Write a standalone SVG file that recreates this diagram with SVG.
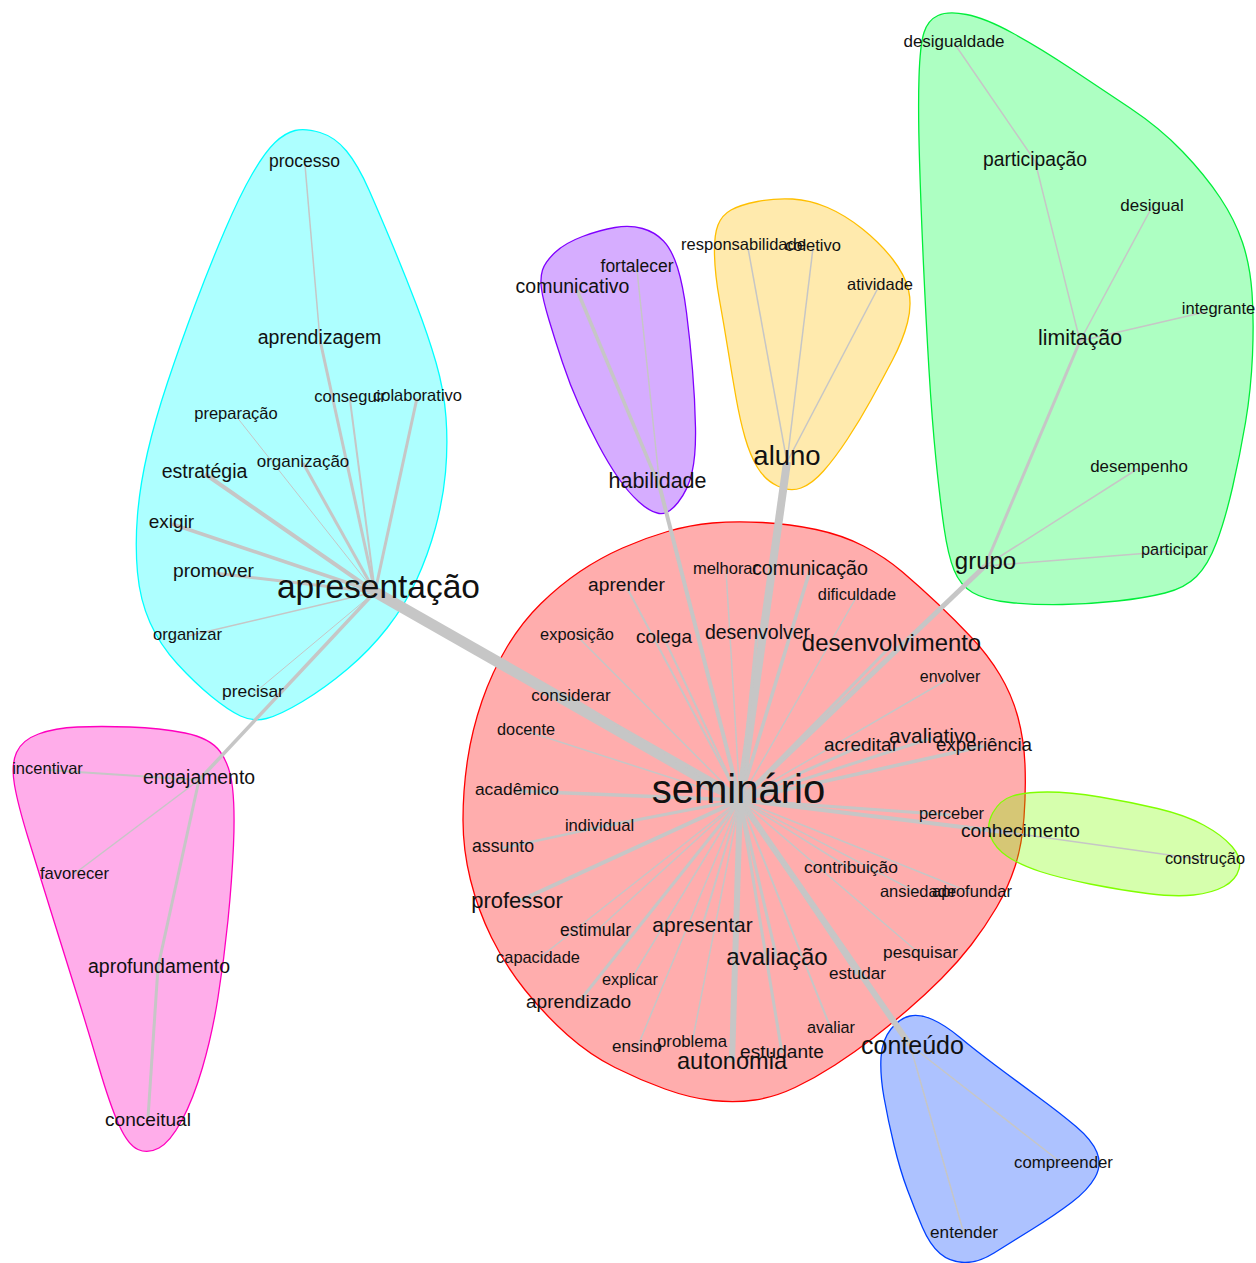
<svg xmlns="http://www.w3.org/2000/svg" width="1256" height="1263" viewBox="0 0 1256 1263">
<style>
.halo{fill-opacity:0.32;stroke-width:1.3}
.e line{stroke:#c6c6c6;stroke-linecap:butt}
text{font-family:"Liberation Sans",Arial,sans-serif;fill:#111;text-anchor:middle}
</style>
<rect width="1256" height="1263" fill="#fff"/>
<g id="halos">
<path id="halo-cyan" class="halo" fill="#00FFFF" stroke="#00FFFF" d="M295,130.5 Q305,128 320,132.5 Q335,137 346.5,151 Q358,165 369,190 Q380,215 392.5,245 Q405,275 416.5,305 Q428,335 436,362.5 Q444,390 446,417.5 Q448,445 445.5,472.5 Q443,500 435.5,527.5 Q428,555 416.5,580 Q405,605 387.5,627.5 Q370,650 347.5,669 Q325,688 302.5,701.5 Q280,715 266.5,718.5 Q253,722 240.5,716 Q228,710 211.5,696.5 Q195,683 177.5,664 Q160,645 150,622.5 Q140,600 137.5,572.5 Q135,545 137.5,515 Q140,485 147.5,452.5 Q155,420 167.5,382.5 Q180,345 195,305 Q210,265 225,230 Q240,195 252.5,173.5 Q265,152 275,142.5 Q285,133 295,130.5 Z"/>
<path id="halo-magenta" class="halo" fill="#FF00BF" stroke="#FF00BF" d="M77.5,727 Q100,726 130,727 Q160,728 185,733 Q210,738 220,751.5 Q230,765 232.5,787.5 Q235,810 233.5,845 Q232,880 228,920 Q224,960 218,997.5 Q212,1035 202.5,1067.5 Q193,1100 181.5,1121 Q170,1142 159,1148 Q148,1154 138,1149.5 Q128,1145 119,1125 Q110,1105 99,1067.5 Q88,1030 75.5,990 Q63,950 50.5,910 Q38,870 28,837.5 Q18,805 14.5,785 Q11,765 16.5,752.5 Q22,740 38.5,734 Q55,728 77.5,727 Z"/>
<path id="halo-purple" class="halo" fill="#8000FF" stroke="#8000FF" d="M542.5,270 Q545,262 555,252.5 Q565,243 582.5,236.5 Q600,230 615,227.5 Q630,225 642.5,228.5 Q655,232 663.5,241 Q672,250 677.5,267.5 Q683,285 686.5,312.5 Q690,340 692.5,370 Q695,400 695.5,427.5 Q696,455 692,472.5 Q688,490 678,502.5 Q668,515 659,513.5 Q650,512 639,502 Q628,492 618,477.5 Q608,463 598,444 Q588,425 579,405 Q570,385 562.5,362.5 Q555,340 549,320 Q543,300 541.5,289 Q540,278 542.5,270 Z"/>
<path id="halo-orange" class="halo" fill="#FFBF00" stroke="#FFBF00" d="M731,210 Q740,205 757.5,201.5 Q775,198 792.5,199 Q810,200 827.5,207.5 Q845,215 862.5,229 Q880,243 892.5,259 Q905,275 908.5,290 Q912,305 907.5,322.5 Q903,340 892.5,360 Q882,380 871,400 Q860,420 847.5,439 Q835,458 823.5,471 Q812,484 801,488 Q790,492 777.5,486 Q765,480 757.5,467.5 Q750,455 745,437.5 Q740,420 736,397.5 Q732,375 728,350 Q724,325 719.5,300 Q715,275 714.5,255 Q714,235 718,225 Q722,215 731,210 Z"/>
<path id="halo-green" class="halo" fill="#00FF40" stroke="#00EE3A" d="M938,15.5 Q948,11 966.5,14.5 Q985,18 1012.5,33 Q1040,48 1070,68 Q1100,88 1130,108 Q1160,128 1182.5,151.5 Q1205,175 1220,197.5 Q1235,220 1242.5,242.5 Q1250,265 1252,292.5 Q1254,320 1252.5,355 Q1251,390 1245.5,422.5 Q1240,455 1232.5,487.5 Q1225,520 1216.5,542.5 Q1208,565 1196.5,576.5 Q1185,588 1165,593 Q1145,598 1117.5,601 Q1090,604 1062.5,604.5 Q1035,605 1010,602.5 Q985,600 972.5,592.5 Q960,585 954,570 Q948,555 944,527.5 Q940,500 936,460 Q932,420 929,370 Q926,320 923.5,265 Q921,210 919.5,160 Q918,110 919,77.5 Q920,45 924,32.5 Q928,20 938,15.5 Z"/>
<path id="halo-red" class="halo" fill="#FF0000" stroke="#FF0000" d="M712.5,523 Q735,521 762.5,522.5 Q790,524 816,529.5 Q842,535 863.5,546 Q885,557 902.5,572 Q920,587 937.5,603.5 Q955,620 971.5,637.5 Q988,655 1000,675 Q1012,695 1018,717.5 Q1024,740 1025,765 Q1026,790 1024,817.5 Q1022,845 1015,866.5 Q1008,888 996.5,907.5 Q985,927 971.5,944.5 Q958,962 941.5,978.5 Q925,995 907.5,1010 Q890,1025 872.5,1038.5 Q855,1052 835,1065 Q815,1078 795,1087.5 Q775,1097 755,1100 Q735,1103 712.5,1100.5 Q690,1098 665,1089 Q640,1080 615,1067.5 Q590,1055 567.5,1035 Q545,1015 525,990 Q505,965 491.5,937.5 Q478,910 470.5,880 Q463,850 463,820 Q463,790 467.5,760 Q472,730 482,701 Q492,672 507,647 Q522,622 541,603.5 Q560,585 580,571.5 Q600,558 622.5,548 Q645,538 667.5,531.5 Q690,525 712.5,523 Z"/>
<path id="halo-lime" class="halo" fill="#80FF00" stroke="#80FF00" d="M993,812.5 Q1000,800 1012.5,796 Q1025,792 1047.5,792 Q1070,792 1100,797 Q1130,802 1157.5,808.5 Q1185,815 1203.5,825 Q1222,835 1232,846.5 Q1242,858 1239,869 Q1236,880 1224,886.5 Q1212,893 1193.5,895 Q1175,897 1147.5,893.5 Q1120,890 1090,884 Q1060,878 1040,871.5 Q1020,865 1007.5,856.5 Q995,848 990.5,836.5 Q986,825 993,812.5 Z"/>
<path id="halo-blue" class="halo" fill="#0040FF" stroke="#0040FF" d="M891,1029 Q900,1018 910,1016 Q920,1014 932.5,1019.5 Q945,1025 960,1037.5 Q975,1050 995,1065 Q1015,1080 1037.5,1096.5 Q1060,1113 1076,1126.5 Q1092,1140 1097,1152.5 Q1102,1165 1095,1177.5 Q1088,1190 1071.5,1202.5 Q1055,1215 1032.5,1229 Q1010,1243 994,1253 Q978,1263 964,1262.5 Q950,1262 940,1253.5 Q930,1245 922.5,1227.5 Q915,1210 907.5,1190 Q900,1170 894,1145 Q888,1120 884,1097.5 Q880,1075 881,1057.5 Q882,1040 891,1029 Z"/>
</g>
<g id="edges" class="e">
<line x1="740" y1="800" x2="375" y2="592" stroke-width="11"/>
<line x1="740" y1="800" x2="787" y2="462" stroke-width="8"/>
<line x1="740" y1="800" x2="660" y2="488" stroke-width="4"/>
<line x1="740" y1="800" x2="985" y2="566" stroke-width="5"/>
<line x1="740" y1="800" x2="910" y2="1045" stroke-width="6"/>
<line x1="740" y1="800" x2="732" y2="1062" stroke-width="6"/>
<line x1="740" y1="800" x2="1012" y2="833" stroke-width="4"/>
<line x1="740" y1="800" x2="891" y2="646" stroke-width="3"/>
<line x1="740" y1="800" x2="517" y2="902" stroke-width="4"/>
<line x1="740" y1="800" x2="626" y2="586" stroke-width="2"/>
<line x1="740" y1="800" x2="726" y2="570" stroke-width="1.5"/>
<line x1="740" y1="800" x2="810" y2="570" stroke-width="3.5"/>
<line x1="740" y1="800" x2="857" y2="596" stroke-width="1.5"/>
<line x1="740" y1="800" x2="577" y2="636" stroke-width="1.5"/>
<line x1="740" y1="800" x2="664" y2="638" stroke-width="2"/>
<line x1="740" y1="800" x2="757" y2="634" stroke-width="3"/>
<line x1="740" y1="800" x2="950" y2="678" stroke-width="1.5"/>
<line x1="740" y1="800" x2="571" y2="697" stroke-width="2"/>
<line x1="740" y1="800" x2="526" y2="731" stroke-width="1.5"/>
<line x1="740" y1="800" x2="861" y2="746" stroke-width="3"/>
<line x1="740" y1="800" x2="932" y2="738" stroke-width="3"/>
<line x1="740" y1="800" x2="984" y2="746" stroke-width="3.5"/>
<line x1="740" y1="800" x2="517" y2="791" stroke-width="3.5"/>
<line x1="740" y1="800" x2="951" y2="815" stroke-width="3"/>
<line x1="740" y1="800" x2="600" y2="827" stroke-width="3"/>
<line x1="600" y1="827" x2="503" y2="848" stroke-width="2.5"/>
<line x1="740" y1="800" x2="851" y2="869" stroke-width="1.5"/>
<line x1="740" y1="800" x2="918" y2="893" stroke-width="1.5"/>
<line x1="740" y1="800" x2="972" y2="893" stroke-width="1.5"/>
<line x1="740" y1="800" x2="595" y2="932" stroke-width="1.5"/>
<line x1="740" y1="800" x2="702" y2="927" stroke-width="2"/>
<line x1="740" y1="800" x2="538" y2="959" stroke-width="1.5"/>
<line x1="740" y1="800" x2="777" y2="959" stroke-width="3"/>
<line x1="740" y1="800" x2="920" y2="954" stroke-width="1.5"/>
<line x1="740" y1="800" x2="857" y2="975" stroke-width="2"/>
<line x1="740" y1="800" x2="630" y2="981" stroke-width="1.5"/>
<line x1="740" y1="800" x2="578" y2="1003" stroke-width="3"/>
<line x1="740" y1="800" x2="831" y2="1029" stroke-width="2"/>
<line x1="740" y1="800" x2="637" y2="1048" stroke-width="1.5"/>
<line x1="740" y1="800" x2="692" y2="1043" stroke-width="1.5"/>
<line x1="740" y1="800" x2="782" y2="1053" stroke-width="3"/>
<line x1="375" y1="592" x2="320" y2="340" stroke-width="3"/>
<line x1="320" y1="340" x2="305" y2="165" stroke-width="1.5"/>
<line x1="375" y1="592" x2="350" y2="400" stroke-width="2"/>
<line x1="375" y1="592" x2="417" y2="398" stroke-width="3"/>
<line x1="375" y1="592" x2="236" y2="416" stroke-width="1"/>
<line x1="375" y1="592" x2="303" y2="463" stroke-width="3"/>
<line x1="375" y1="592" x2="205" y2="474" stroke-width="4"/>
<line x1="375" y1="592" x2="172" y2="524" stroke-width="3.5"/>
<line x1="375" y1="592" x2="214" y2="573" stroke-width="3"/>
<line x1="375" y1="592" x2="188" y2="636" stroke-width="1.5"/>
<line x1="375" y1="592" x2="253" y2="694" stroke-width="1"/>
<line x1="375" y1="592" x2="199" y2="780" stroke-width="3.5"/>
<line x1="199" y1="780" x2="47" y2="770" stroke-width="2"/>
<line x1="199" y1="780" x2="74" y2="874" stroke-width="1.5"/>
<line x1="199" y1="780" x2="158" y2="967" stroke-width="3"/>
<line x1="158" y1="967" x2="148" y2="1118" stroke-width="3"/>
<line x1="660" y1="488" x2="577" y2="290" stroke-width="3.5"/>
<line x1="660" y1="488" x2="637" y2="270" stroke-width="1.5"/>
<line x1="787" y1="462" x2="748" y2="248" stroke-width="1.5"/>
<line x1="787" y1="462" x2="813" y2="248" stroke-width="1.5"/>
<line x1="787" y1="462" x2="878" y2="288" stroke-width="1.5"/>
<line x1="985" y1="566" x2="1080" y2="341" stroke-width="3"/>
<line x1="1080" y1="341" x2="1035" y2="161" stroke-width="1.5"/>
<line x1="1035" y1="161" x2="954" y2="43" stroke-width="1.5"/>
<line x1="1080" y1="341" x2="1152" y2="207" stroke-width="1.5"/>
<line x1="1080" y1="341" x2="1205" y2="312" stroke-width="1.5"/>
<line x1="985" y1="566" x2="1139" y2="468" stroke-width="1.5"/>
<line x1="985" y1="566" x2="1175" y2="551" stroke-width="1.5"/>
<line x1="1012" y1="833" x2="1205" y2="860" stroke-width="1.5"/>
<line x1="910" y1="1045" x2="1063" y2="1164" stroke-width="1.5"/>
<line x1="910" y1="1045" x2="964" y2="1234" stroke-width="1.5"/>
</g>
<g id="nodes">
<g id="n-processo"><text x="304.5" y="167" font-size="17.5">processo</text></g>
<g id="n-aprendizagem"><text x="319.5" y="344" font-size="19.5">aprendizagem</text></g>
<g id="n-conseguir"><text x="350" y="402" font-size="16.5">conseguir</text></g>
<g id="n-colaborativo"><text x="417.5" y="401" font-size="16.5">colaborativo</text></g>
<g id="n-preparacao"><text x="236" y="419" font-size="16.5">preparação</text></g>
<g id="n-organizacao"><text x="303" y="467" font-size="17">organização</text></g>
<g id="n-estrategia"><text x="204.5" y="478" font-size="19.5">estratégia</text></g>
<g id="n-exigir"><text x="171.5" y="528" font-size="19">exigir</text></g>
<g id="n-promover"><text x="213.5" y="577" font-size="19.2">promover</text></g>
<g id="n-apresentacao"><text x="378.5" y="598" font-size="33.5">apresentação</text></g>
<g id="n-organizar"><text x="187.5" y="640" font-size="16.6">organizar</text></g>
<g id="n-precisar"><text x="253" y="697" font-size="17.4">precisar</text></g>
<g id="n-incentivar"><text x="47.5" y="774" font-size="16.5">incentivar</text></g>
<g id="n-engajamento"><text x="199" y="784" font-size="19.4">engajamento</text></g>
<g id="n-favorecer"><text x="74.5" y="879" font-size="16.6">favorecer</text></g>
<g id="n-aprofundamento"><text x="159" y="973" font-size="19.5">aprofundamento</text></g>
<g id="n-conceitual"><text x="148" y="1126" font-size="19.1">conceitual</text></g>
<g id="n-fortalecer"><text x="637" y="272" font-size="17.5">fortalecer</text></g>
<g id="n-comunicativo"><text x="572.5" y="293" font-size="19.5">comunicativo</text></g>
<g id="n-habilidade"><text x="657.5" y="488" font-size="21.5">habilidade</text></g>
<g id="n-responsabilidade"><text x="743.5" y="250" font-size="16.5">responsabilidade</text></g>
<g id="n-coletivo"><text x="813" y="251" font-size="16.5">coletivo</text></g>
<g id="n-atividade"><text x="880" y="290" font-size="16.5">atividade</text></g>
<g id="n-aluno"><text x="787" y="465" font-size="27.5">aluno</text></g>
<g id="n-desigualdade"><text x="954" y="47" font-size="17">desigualdade</text></g>
<g id="n-participacao"><text x="1035" y="166" font-size="19.3">participação</text></g>
<g id="n-desigual"><text x="1152" y="211" font-size="17">desigual</text></g>
<g id="n-integrante"><text x="1218.5" y="314" font-size="16.5">integrante</text></g>
<g id="n-limitacao"><text x="1080" y="345" font-size="21.3">limitação</text></g>
<g id="n-desempenho"><text x="1139" y="472" font-size="16.9">desempenho</text></g>
<g id="n-participar"><text x="1174.5" y="555" font-size="16.3">participar</text></g>
<g id="n-grupo"><text x="985.5" y="569" font-size="24">grupo</text></g>
<g id="n-aprender"><text x="626.5" y="591" font-size="19.2">aprender</text></g>
<g id="n-melhorar"><text x="725.5" y="574" font-size="16.5">melhorar</text></g>
<g id="n-comunicacao"><text x="810" y="575" font-size="19.7">comunicação</text></g>
<g id="n-dificuldade"><text x="857" y="600" font-size="16.4">dificuldade</text></g>
<g id="n-exposicao"><text x="577" y="640" font-size="16.4">exposição</text></g>
<g id="n-colega"><text x="664" y="643" font-size="19">colega</text></g>
<g id="n-desenvolver"><text x="757.5" y="639" font-size="19.5">desenvolver</text></g>
<g id="n-desenvolvimento"><text x="891.5" y="651" font-size="23.9">desenvolvimento</text></g>
<g id="n-envolver"><text x="950" y="682" font-size="16">envolver</text></g>
<g id="n-considerar"><text x="571" y="701" font-size="17">considerar</text></g>
<g id="n-docente"><text x="526" y="735" font-size="16.3">docente</text></g>
<g id="n-acreditar"><text x="861" y="751" font-size="19">acreditar</text></g>
<g id="n-avaliativo"><text x="932.5" y="743" font-size="20.9">avaliativo</text></g>
<g id="n-experiencia"><text x="984" y="751" font-size="18.8">experiência</text></g>
<g id="n-academico"><text x="517" y="795" font-size="17.4">acadêmico</text></g>
<g id="n-seminario"><text x="738.5" y="803" font-size="40">seminário</text></g>
<g id="n-perceber"><text x="951.5" y="819" font-size="16.5">perceber</text></g>
<g id="n-individual"><text x="599.5" y="831" font-size="16.6">individual</text></g>
<g id="n-assunto"><text x="503" y="852" font-size="17.7">assunto</text></g>
<g id="n-contribuicao"><text x="851" y="873" font-size="17.4">contribuição</text></g>
<g id="n-ansiedade"><text x="918" y="897" font-size="16.5">ansiedade</text></g>
<g id="n-aprofundar"><text x="972" y="897" font-size="16.5">aprofundar</text></g>
<g id="n-professor"><text x="517" y="908" font-size="22">professor</text></g>
<g id="n-estimular"><text x="595.5" y="936" font-size="17.5">estimular</text></g>
<g id="n-apresentar"><text x="702.5" y="932" font-size="21">apresentar</text></g>
<g id="n-capacidade"><text x="538" y="963" font-size="16.4">capacidade</text></g>
<g id="n-avaliacao"><text x="777" y="965" font-size="24">avaliação</text></g>
<g id="n-pesquisar"><text x="920.5" y="958" font-size="17.3">pesquisar</text></g>
<g id="n-estudar"><text x="857.5" y="979" font-size="17.1">estudar</text></g>
<g id="n-explicar"><text x="630" y="985" font-size="16.3">explicar</text></g>
<g id="n-aprendizado"><text x="578.5" y="1008" font-size="19.1">aprendizado</text></g>
<g id="n-avaliar"><text x="831" y="1033" font-size="16.3">avaliar</text></g>
<g id="n-ensino"><text x="637" y="1052" font-size="17">ensino</text></g>
<g id="n-problema"><text x="692" y="1047" font-size="16.8">problema</text></g>
<g id="n-autonomia"><text x="732" y="1069" font-size="23.6">autonomia</text></g>
<g id="n-estudante"><text x="782" y="1058" font-size="19.1">estudante</text></g>
<g id="n-conteudo"><text x="912.5" y="1054" font-size="25">conteúdo</text></g>
<g id="n-conhecimento"><text x="1020.5" y="837" font-size="19.1">conhecimento</text></g>
<g id="n-construcao"><text x="1205" y="864" font-size="16.4">construção</text></g>
<g id="n-compreender"><text x="1063.5" y="1168" font-size="16.8">compreender</text></g>
<g id="n-entender"><text x="964" y="1238" font-size="17.2">entender</text></g>
</g>
</svg>
